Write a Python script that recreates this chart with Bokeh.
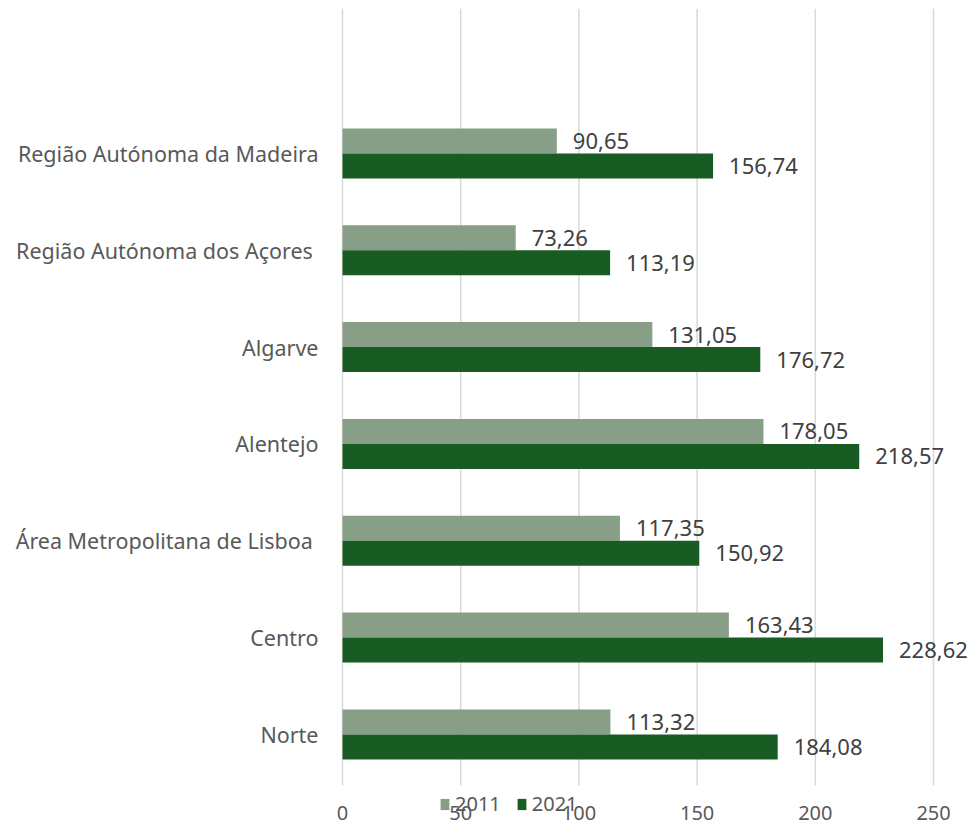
from bokeh.plotting import figure
from bokeh.models import ColumnDataSource, Range1d, FixedTicker, Legend, LegendItem
from bokeh.core.properties import value
from bokeh.embed import file_html
from bokeh.resources import INLINE

regions = ["Norte", "Centro", "Área Metropolitana de Lisboa ", "Alentejo",
           "Algarve", "Região Autónoma dos Açores ", "Região Autónoma da Madeira"]
v2011 = [113.32, 163.43, 117.35, 178.05, 131.05, 73.26, 90.65]
v2021 = [184.08, 228.62, 150.92, 218.57, 176.72, 113.19, 156.74]
x_ticks = [0, 50, 100, 150, 200, 250]

FONT = "Noto Sans"
C2011 = "#879E87"
C2021 = "#185C23"
BAR_H = 0.258
Y_TOP, Y_BOTTOM = 7.497, -0.951
GRID_BOTTOM = -0.527
TICK_LABEL_Y = -0.816
X_START, X_END = -3.384, 266.9

pos = list(range(len(regions)))
def fmt(v):
    return f"{v:.2f}".replace(".", ",")

src11 = ColumnDataSource(dict(y=[p + BAR_H / 2 for p in pos], v=v2011, lab=[fmt(v) for v in v2011]))
src21 = ColumnDataSource(dict(y=[p - BAR_H / 2 for p in pos], v=v2021, lab=[fmt(v) for v in v2021]))

p = figure(width=973, height=826, output_backend="svg", toolbar_location=None,
           x_range=Range1d(X_START, X_END), y_range=Range1d(Y_BOTTOM, Y_TOP),
           min_border_left=334, min_border_right=0, min_border_top=8, min_border_bottom=0)
p.outline_line_color = None
p.background_fill_color = "white"
p.xgrid.grid_line_color = None
p.ygrid.grid_line_color = None

# vertical gridlines at the x ticks
p.segment(x0=x_ticks, x1=x_ticks, y0=[GRID_BOTTOM] * len(x_ticks), y1=[Y_TOP] * len(x_ticks),
          line_color="#D9D9D9", line_width=1.5)

r11 = p.hbar(y="y", right="v", left=0, height=BAR_H, source=src11, fill_color=C2011, line_color=None)
r21 = p.hbar(y="y", right="v", left=0, height=BAR_H, source=src21, fill_color=C2021, line_color=None)

for s in (src11, src21):
    p.text(x="v", y="y", text="lab", source=s, x_offset=16, text_align="left", text_baseline="middle",
           text_font=value(FONT), text_font_size="22px", text_color="#404040")

# x tick labels
p.text(x=x_ticks, y=[TICK_LABEL_Y] * len(x_ticks), text=[str(t) for t in x_ticks],
       text_align="center", text_baseline="middle",
       text_font=value(FONT), text_font_size="20px", text_color="#595959")
p.xaxis.visible = False

p.yaxis.ticker = FixedTicker(ticks=pos)
p.yaxis.major_label_overrides = {i: r for i, r in enumerate(regions)}
p.yaxis.axis_line_color = None
p.yaxis.major_tick_line_color = None
p.yaxis.minor_tick_line_color = None
p.yaxis.major_label_standoff = 10
p.yaxis.major_label_text_font = FONT
p.yaxis.major_label_text_font_size = "21.5px"
p.yaxis.major_label_text_color = "#595959"

legend = Legend(items=[LegendItem(label="2011", renderers=[r11]), LegendItem(label="2021", renderers=[r21])],
                orientation="horizontal", location=(105, 9),
                glyph_width=11, glyph_height=14, label_height=14, label_standoff=5, spacing=15,
                padding=0, margin=0, border_line_color=None, background_fill_alpha=0,
                label_text_font=FONT, label_text_font_size="20px", label_text_color="#595959")
p.add_layout(legend, "center")

open("out.html", "w").write(file_html(p, INLINE))
